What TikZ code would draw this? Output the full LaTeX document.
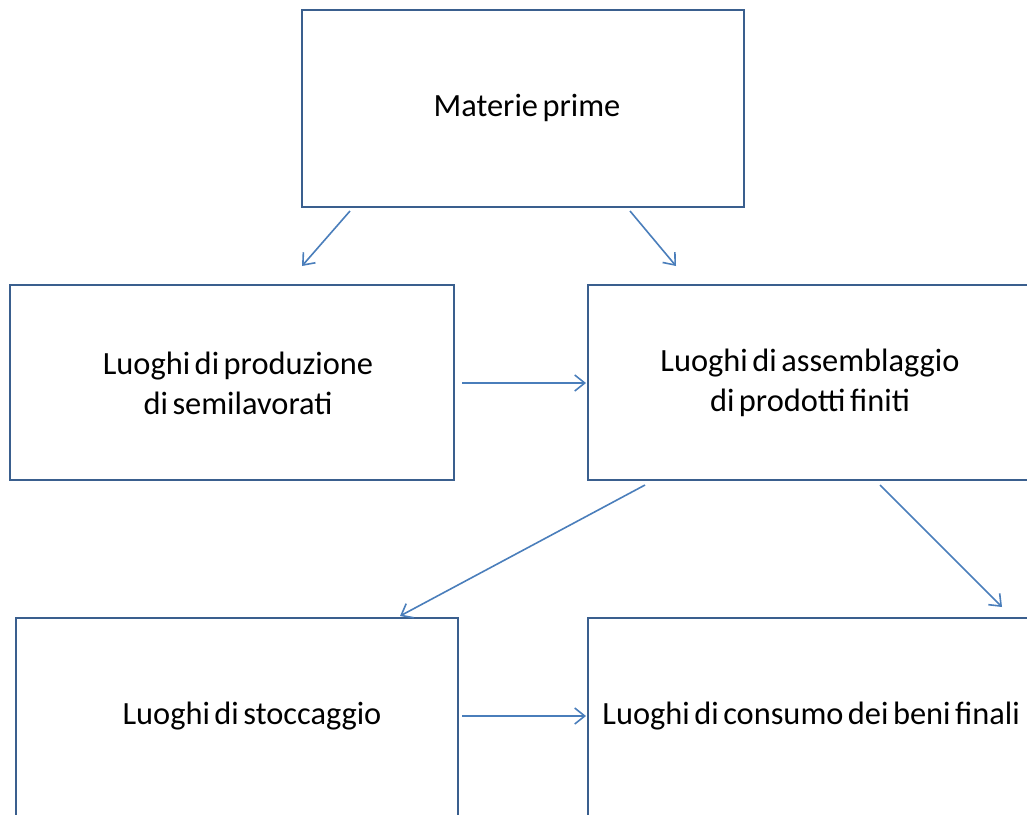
\documentclass[tikz,border=0pt]{standalone}
\usepackage{fontspec}
\setmainfont{Carlito}
\usetikzlibrary{arrows.meta,calc}

\definecolor{boxblue}{HTML}{3A5F8E}
\definecolor{arrblue}{HTML}{4A7EBB}

\newcommand{\lblfont}{\fontsize{16.2}{20}\selectfont\spaceskip=0.14em\relax}

\tikzset{
    box/.style={draw=boxblue, line width=1.4pt, fill=white},
    lbl/.style={font=\lblfont, align=center, inner sep=0pt},
    arr/.style={draw=arrblue, line width=0.8pt, -{Straight Barb[length=5pt,width=8pt]}}
}

\begin{document}
\begin{tikzpicture}[x=0.5pt, y=-0.5pt]
    \useasboundingbox (0,0) rectangle (1027,814);
    \clip (0,0) rectangle (1027,814);

    % Draw the boxes
    \draw[box] (302,10) rectangle (744,207);
    \draw[box] (10,285) rectangle (454,480);
    \draw[box] (588,285) rectangle (1040,480);
    \draw[box] (16,618) rectangle (458,840);
    \draw[box] (588,618) rectangle (1040,840);

    % Labels
    \node[lbl] (mat) at (527,108) {Materie prime};
    \node[lbl] (prod) at (238,383) {Luoghi di produzione\\di semilavorati};
    \node[lbl] (ass) at (810,383) {Luoghi di assemblaggio\\di prodotti finiti};
    \node[lbl] (stocc) at (252,716) {Luoghi di stoccaggio};
    \node[lbl, anchor=west] (cons) at (602,716) {Luoghi di consumo dei beni finali};

    % Arrow ends
    \coordinate (m1) at (350,211);
    \coordinate (m2) at (630,211);
    \coordinate (p1) at (302,266);
    \coordinate (a1) at (676,266);
    \coordinate (pr) at (462,383);
    \coordinate (al) at (586,383);
    \coordinate (a2) at (645,485);
    \coordinate (a3) at (880,485);
    \coordinate (s1) at (400,616);
    \coordinate (c1) at (1002,607);
    \coordinate (sr) at (462,716);
    \coordinate (cl) at (586,716);

    % Draw arrows
    \draw[arr] (m1) -- (p1);
    \draw[arr] (m2) -- (a1);
    \draw[arr] (pr) -- (al);
    \draw[arr] (a2) -- (s1);
    \draw[arr] (a3) -- (c1);
    \draw[arr] (sr) -- (cl);
\end{tikzpicture}
\end{document}
